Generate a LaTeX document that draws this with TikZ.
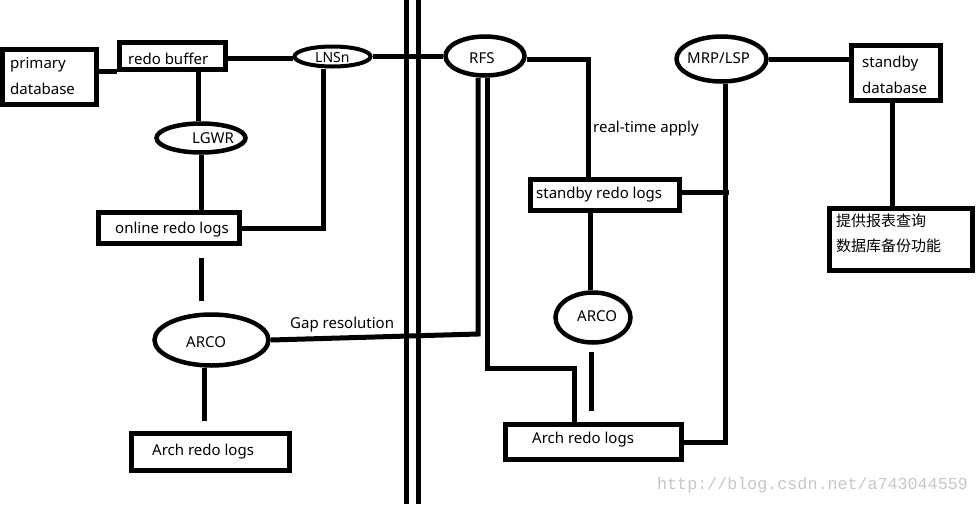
\documentclass[tikz,border=0pt]{standalone}
\usepackage{fontspec}
\setmainfont{Noto Sans}
\newfontfamily\cjk{Noto Sans CJK SC}
\newfontfamily\wmfont{Liberation Mono}
\usetikzlibrary{shapes.geometric,calc}
\begin{document}
\begin{tikzpicture}[x=1pt,y=-1pt,
  conn/.style={draw=black,line width=5pt},
  box/.style={draw=black,line width=5pt,rectangle,inner sep=0pt},
  oval/.style={draw=black,line width=4.5pt,ellipse,inner sep=0pt},
  txt/.style={inner sep=0pt,anchor=base west,font=\fontsize{15}{18}\selectfont},
  cntxt/.style={inner sep=0pt,anchor=base west,font=\cjk\fontsize{15}{18}\selectfont},
  wm/.style={inner sep=0pt,anchor=base west,text=black!22,font=\wmfont\fontsize{16.7}{18}\selectfont}]
\useasboundingbox (0,0) rectangle (978,504);
\fill[white] (0,0) rectangle (978,504);

% boxes
\node[box,minimum width=94pt,minimum height=55pt] (pdb) at (49.5,77) {};
\node[box,minimum width=106pt,minimum height=27pt] (rb) at (172.5,56) {};
\node[box,minimum width=141pt,minimum height=31pt] (orl) at (169,228) {};
\node[box,minimum width=158pt,minimum height=37pt] (arl1) at (210.5,452) {};
\node[box,minimum width=149pt,minimum height=31pt] (srl) at (605,195) {};
\node[box,minimum width=176pt,minimum height=35pt] (arl2) at (593.5,442) {};
\node[box,minimum width=89pt,minimum height=55pt] (sdb) at (896,73) {};
\node[box,minimum width=143pt,minimum height=62pt] (cn) at (901,239.5) {};

% ellipses
\node[oval,line width=4pt,minimum width=76pt,minimum height=20pt] (lnsn) at (332.5,56.5) {};
\node[oval,minimum width=89pt,minimum height=29pt] (lgwr) at (201,138) {};
\node[oval,minimum width=114pt,minimum height=51pt] (arco1) at (211.5,340) {};
\node[oval,minimum width=79pt,minimum height=39pt] (rfs) at (485,56) {};
\node[oval,minimum width=90pt,minimum height=45pt] (mrp) at (721.5,59) {};
\node[oval,minimum width=75pt,minimum height=50pt] (arco2) at (593,317.5) {};

% texts
\node[txt] (t1) at (10,68) {primary};
\node[txt] (t2) at (10,94) {database};
\node[txt] (t3) at (128,64) {redo buffer};
\node[txt,font=\fontsize{14}{16}\selectfont] (t4) at (315,62) {LNSn};
\node[txt] (t5) at (192,143) {LGWR};
\node[txt] (t6) at (115,233) {online redo logs};
\node[txt] (t7) at (186,347) {ARCO};
\node[txt] (t8) at (290,328) {Gap resolution};
\node[txt] (t9) at (152,455) {Arch redo logs};
\node[txt] (t10) at (469,63) {RFS};
\node[txt] (t11) at (593,132) {real-time apply};
\node[txt] (t12) at (687,63) {MRP/LSP};
\node[txt] (t13) at (536,198) {standby redo logs};
\node[txt] (t14) at (577,321) {ARCO};
\node[txt] (t15) at (532,443) {Arch redo logs};
\node[txt] (t16) at (862,67) {standby};
\node[txt] (t17) at (862,93) {database};
\node[cntxt] (t18) at (836,226) {提供报表查询};
\node[cntxt] (t19) at (836,251) {数据库备份功能};
\node[wm] (t20) at (657,489) {http://blog.csdn.net/a743044559};

% divider
\coordinate (d1t) at (406,0);
\coordinate (d1b) at (406,504);
\coordinate (d2t) at (418,0);
\coordinate (d2b) at (418,504);
\draw[conn] (d1t) -- (d1b);
\draw[conn] (d2t) -- (d2b);

% connectors
\draw[conn] (pdb.east |- 0,71) -- (rb.west |- 0,71);
\draw[conn] (rb.east |- 0,58) -- (lnsn.west |- 0,58);
\draw[conn] (lnsn.east) -- (rfs.west |- lnsn.east);
\draw[conn] (lnsn.south -| 323,0) |- (orl.east);
\draw[conn] (rb.south -| 198,0) -- (lgwr.north -| 198,0);
\draw[conn] (lgwr.south) -- (lgwr.south |- orl.north);
\draw[conn] ($(orl.south -| lgwr.south)+(0,12)$) -- ($(arco1.north -| lgwr.south)+(0,-11)$);
\draw[conn] (arco1.south -| 204,0) -- ($(arl1.north -| 204,0)+(0,-10)$);
\draw[conn] (arco1.east) -- (478,334) -- (rfs.south -| 478,0);
\draw[conn] (rfs.south -| 487,0) -- (487,368) -- (574,368) -- (arl2.north -| 574,0);
\draw[conn] (rfs.east |- 0,59) -| (srl.north -| 588,0);
\draw[conn] (srl.east |- 0,192) -- (729,192);
\draw[conn] (mrp.south -| 725,0) |- (arl2.east);
\draw[conn] (mrp.east) -- (sdb.west |- mrp.east);
\draw[conn] (sdb.south -| 892,0) -- (cn.north -| 892,0);
\draw[conn] (srl.south -| 590,0) -- (arco2.north -| 590,0);
\draw[conn] ($(arco2.south -| 591,0)+(0,7)$) -- ($(arl2.north -| 591,0)+(0,-11)$);
\end{tikzpicture}
\end{document}
